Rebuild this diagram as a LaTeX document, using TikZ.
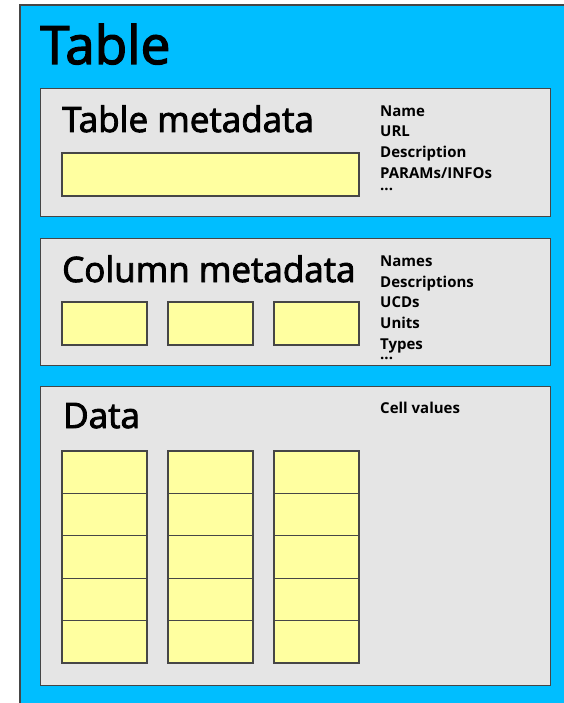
\documentclass[tikz,border=0pt]{standalone}
\usepackage{fontspec}
\setmainfont{Open Sans}
\newfontfamily\headfont[FakeBold=2.5]{Open Sans}
\definecolor{skyfill}{RGB}{0,190,255}
\definecolor{panelfill}{RGB}{229,229,229}
\definecolor{cellfill}{RGB}{255,255,160}
\definecolor{edgegray}{RGB}{70,70,70}
\begin{document}
\begin{tikzpicture}[x=1pt,y=-1pt,
  panel/.style={fill=panelfill,draw=edgegray,line width=1pt},
  cell/.style={fill=cellfill,draw=edgegray,line width=1.1pt},
  heading/.style={anchor=base west,inner sep=0pt,font=\headfont\fontsize{35}{40}\selectfont},
  item/.style={anchor=base west,inner sep=0pt,font=\bfseries\fontsize{15}{17}\selectfont}]
\useasboundingbox (0,0) rectangle (563,703);
% outer table area
\fill[skyfill] (20,5) rectangle (575,715);
\draw[edgegray,line width=1.2pt] (20,715) -- (20,5) -- (575,5);
\node[anchor=base west,inner sep=0pt,font=\headfont\fontsize{53}{60}\selectfont] (title) at (40,64) {Table};

% table metadata panel
\draw[panel] (40,89) rectangle (550,217);
\node[heading] (tmhead) at (62,132) {Table metadata};
\draw[cell] (62,153) rectangle (359,196);
\node[item] (tm1) at (380,116.5) {Name};
\node[item] (tm2) at (380,137) {URL};
\node[item] (tm3) at (380,158) {Description};
\node[item] (tm4) at (380,179) {PARAMs/INFOs};
\node[item] (tm5) at (380,190.5) {...};

% column metadata panel
\draw[panel] (40,238) rectangle (550,365);
\node[heading] (cmhead) at (62,282) {Column metadata};
\foreach \x in {62,168,274}
  \draw[cell] (\x,302) rectangle ++(85,43);
\node[item] (cm1) at (380,266.5) {Names};
\node[item] (cm2) at (380,287) {Descriptions};
\node[item] (cm3) at (380,307) {UCDs};
\node[item] (cm4) at (380,328) {Units};
\node[item] (cm5) at (380,349) {Types};
\node[item] (cm6) at (380,359.5) {...};

% data panel
\draw[panel] (40,386) rectangle (550,685);
\node[heading] (dhead) at (63,428) {Data};
\node[item] (dv) at (380,413) {Cell values};
\foreach \x in {62,168,274}
  \foreach \r in {0,...,4}
    \draw[cell] (\x,451+\r*42.4) rectangle ++(85,42.4);
\end{tikzpicture}
\end{document}
